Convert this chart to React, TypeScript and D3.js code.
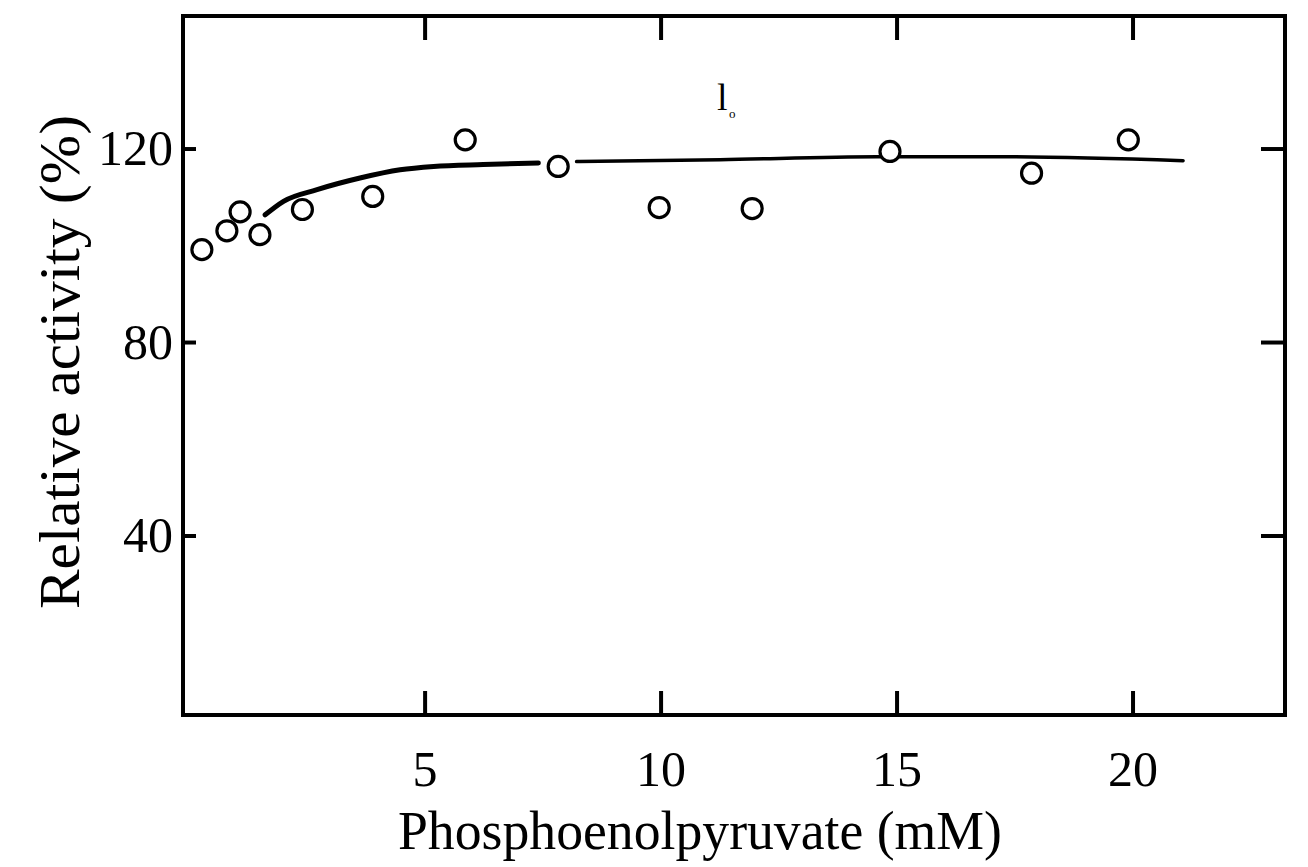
import React from "react";
import * as d3 from "d3";

// Measured data (Phosphoenolpyruvate mM vs relative activity %)
const pepConc = [0.27, 0.8, 1.08, 1.5, 2.4, 3.89, 5.85, 7.82, 9.96, 11.93, 14.85, 17.85, 19.9];
const activity = [99.2, 103.1, 107.0, 102.3, 107.5, 110.2, 121.9, 116.4, 107.9, 107.7, 119.5, 115.0, 121.9];

// Fitted curve, drawn in two pieces as in the figure
const curve1X = [1.61, 2.0, 2.71, 3.62, 4.47, 5.18, 6.23, 7.4];
const curve1Y = [106.4, 109.2, 111.6, 114.0, 115.7, 116.4, 116.8, 117.1];
const curve2X = [8.21, 11.25, 14.58, 17.18, 21.06];
const curve2Y = [117.4, 117.8, 118.4, 118.4, 117.6];

const xTicks = [5, 10, 15, 20];
const yTicks = [40, 80, 120];

const xLabel = "Phosphoenolpyruvate (mM)";
const yLabel = "Relative activity (%)";

export default function App() {
  const W = 1308;
  const H = 867;
  const left = 183, right = 1285, top = 16, bottom = 715;
  const x = d3.scaleLinear().domain([-0.13, 23.22]).range([left, right]);
  const y = d3.scaleLinear().domain([3, 147.5]).range([bottom, top]);

  const line = d3
    .line<[number, number]>()
    .x((d) => x(d[0]))
    .y((d) => y(d[1]))
    .curve(d3.curveMonotoneX);

  const seg1 = curve1X.map((v, i) => [v, curve1Y[i]] as [number, number]);
  const seg2 = curve2X.map((v, i) => [v, curve2Y[i]] as [number, number]);

  const font = "'Liberation Serif', 'Times New Roman', serif";

  return (
    <svg width={W} height={H} style={{ position: "absolute", left: 0, top: 0, background: "#fff" }}>
      <rect x={0} y={0} width={W} height={H} fill="#fff" />
      {/* frame */}
      <rect x={left} y={top} width={right - left} height={bottom - top} fill="none" stroke="#000" strokeWidth={4} />

      {/* x ticks (bottom and top, inward) */}
      {xTicks.map((t) => (
        <g key={"xt" + t}>
          <line x1={x(t)} x2={x(t)} y1={bottom} y2={bottom - 24} stroke="#000" strokeWidth={4} />
          <line x1={x(t)} x2={x(t)} y1={top} y2={top + 24} stroke="#000" strokeWidth={4} />
          <text x={x(t)} y={786} textAnchor="middle" fontFamily={font} fontSize={50} fill="#000">
            {t}
          </text>
        </g>
      ))}

      {/* y ticks (left and right, inward) */}
      {yTicks.map((t) => (
        <g key={"yt" + t}>
          <line x1={left} x2={left + 13} y1={y(t)} y2={y(t)} stroke="#000" strokeWidth={4} />
          <line x1={right} x2={right - 24} y1={y(t)} y2={y(t)} stroke="#000" strokeWidth={4} />
          <text x={173} y={y(t) + 16} textAnchor="end" fontFamily={font} fontSize={50} fill="#000">
            {t}
          </text>
        </g>
      ))}

      {/* fitted curve */}
      <path d={line(seg1) || ""} fill="none" stroke="#000" strokeWidth={5} strokeLinecap="round" />
      <path d={line(seg2) || ""} fill="none" stroke="#000" strokeWidth={3.5} strokeLinecap="round" />

      {/* data points */}
      {pepConc.map((v, i) => (
        <circle key={"p" + i} cx={x(v)} cy={y(activity[i])} r={10} fill="#fff" stroke="#000" strokeWidth={3.2} />
      ))}

      {/* stray annotation mark */}
      <text x={717} y={110} fontFamily={font} fontSize={38} fill="#000">l</text>
      <text x={729} y={118} fontFamily={font} fontSize={13} fill="#000">o</text>

      {/* axis labels */}
      <text
        x={700}
        y={849}
        textAnchor="middle"
        fontFamily={font}
        fontSize={54}
        textLength={604}
        lengthAdjust="spacingAndGlyphs"
        fill="#000"
      >
        {xLabel}
      </text>
      <text
        transform={`translate(79, 362) rotate(-90)`}
        textAnchor="middle"
        fontFamily={font}
        fontSize={56}
        textLength={494}
        lengthAdjust="spacingAndGlyphs"
        fill="#000"
      >
        {yLabel}
      </text>
    </svg>
  );
}
